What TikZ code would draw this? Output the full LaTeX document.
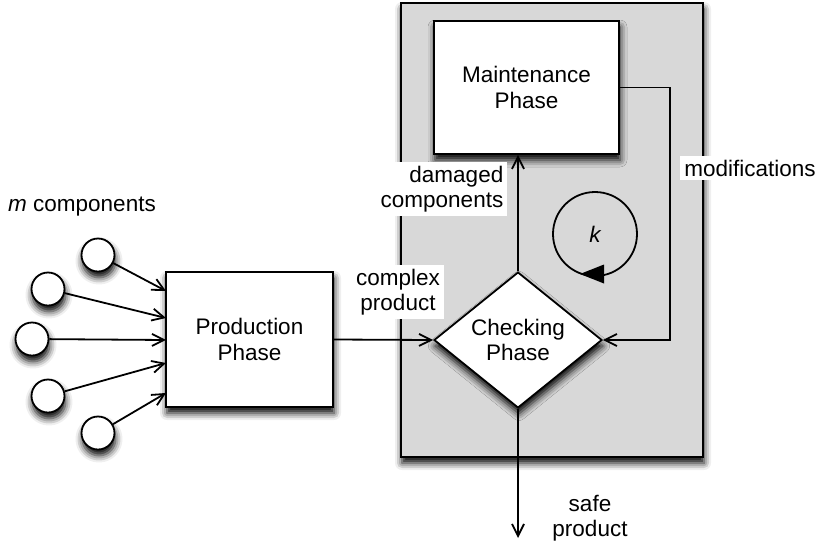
\documentclass[tikz,border=0pt]{standalone}
\usepackage{fontspec}
\setmainfont{Liberation Sans}
\usetikzlibrary{arrows.meta,shapes.geometric,shadows.blur}
\definecolor{panelgray}{RGB}{216,216,216}
\tikzset{
  lw/.style={line width=1.8pt},
  shad/.style={blur shadow={shadow xshift=1pt,shadow yshift=-6pt,shadow blur radius=7pt,shadow opacity=100}},
  box/.style={draw,lw,fill=white,shad,rectangle,inner sep=0pt,align=center,font=\fontsize{22.5}{25.5}\selectfont},
  comp/.style={draw,lw,fill=white,shad,circle,minimum size=33pt,inner sep=0pt},
  lab/.style={fill=white,inner sep=4pt,font=\fontsize{22.5}{25.5}\selectfont},
  arr/.style={lw,-{Straight Barb[length=12pt,width=12pt,line width=1.8pt]}},
}
\begin{document}
\begin{tikzpicture}[x=1pt,y=-1pt]
\useasboundingbox (0,0) rectangle (819,544);
% panel
\node[draw,lw,fill=panelgray,shad,rectangle,minimum width=302pt,minimum height=454pt,inner sep=0pt] (panel) at (552,230) {};
% main nodes
\node[box,minimum width=167pt,minimum height=135pt] (prod) at (249.5,339.5) {Production\\Phase};
\node[box,minimum width=185pt,minimum height=133pt] (maint) at (526.5,87.5) {Maintenance\\Phase};
\node[box,diamond,minimum width=168pt,minimum height=133pt] (check) at (518,340) {Checking\\Phase};
% components
\node[comp] (c1) at (98,255) {};
\node[comp] (c2) at (48,289) {};
\node[comp] (c3) at (32,339) {};
\node[comp] (c4) at (48,396) {};
\node[comp] (c5) at (98,433) {};
\coordinate (p1) at (166,291);
\coordinate (p2) at (166,318);
\coordinate (p3) at (166,340);
\coordinate (p4) at (166,363);
\coordinate (p5) at (166,393);
\draw[arr] (c1) -- (p1);
\draw[arr] (c2) -- (p2);
\draw[arr] (c3) -- (p3);
\draw[arr] (c4) -- (p4);
\draw[arr] (c5) -- (p5);
% connectors
\draw[arr] (prod.east) -- (check.west);
\draw[arr] (check.north) -- (check.north |- maint.south);
\coordinate (mc) at (670,340);
\draw[arr] (maint.east) -| (mc) -- (check.east);
\coordinate (out) at (518,538);
\draw[arr] (check.south) -- (out);
% loop k
\node[draw,lw,circle,minimum size=84pt,inner sep=0pt,font=\fontsize{22.5}{25.5}\selectfont\itshape] (k) at (595,234) {k};
\fill (580,274) -- (604,264.5) -- (604,283.5) -- cycle;
% labels
\node[font=\fontsize{22.5}{25.5}\selectfont] (mlab) at (82,207) {\textit{m} components};
\node[lab,align=center] (cplab) at (398,292) {complex\\product};
\node[lab,align=right] (dmlab) at (442,189) {damaged\\components};
\node[lab] (modlab) at (750,168) {modifications};
\node[font=\fontsize{22.5}{25.5}\selectfont,align=center] (safelab) at (590,518) {safe\\product};
\end{tikzpicture}
\end{document}
